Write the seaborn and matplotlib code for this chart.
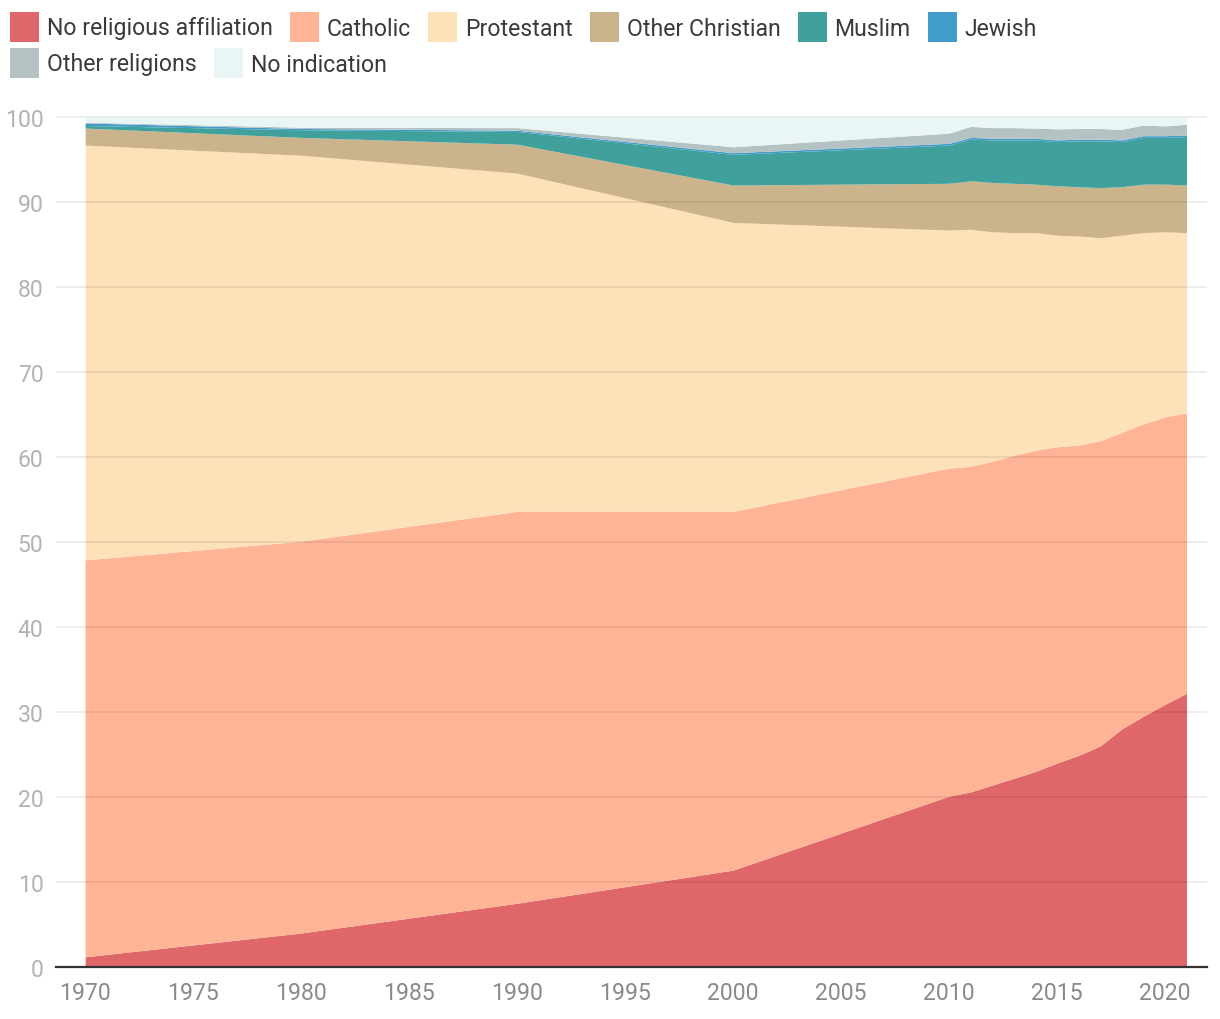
import matplotlib
matplotlib.use("Agg")
import matplotlib.pyplot as plt
import seaborn as sns
import pandas as pd
from matplotlib.patches import Rectangle

# ---------------- data (percent of population) ----------------
years = [1970, 1980, 1990, 2000, 2010, 2011, 2012, 2013, 2014, 2015,
         2016, 2017, 2018, 2019, 2020, 2021]
no_religion     = [1.2, 4.0, 7.5, 11.4, 20.1, 20.6, 21.4, 22.2, 23.0, 24.0, 24.9, 26.0, 28.0, 29.5, 30.9, 32.2]
catholic        = [46.7, 46.1, 46.1, 42.2, 38.6, 38.3, 38.1, 38.0, 37.8, 37.2, 36.5, 35.9, 34.9, 34.4, 33.8, 33.0]
protestant      = [48.8, 45.4, 39.8, 34.0, 28.0, 27.9, 27.0, 26.2, 25.6, 24.9, 24.6, 23.9, 23.2, 22.5, 21.8, 21.2]
other_christian = [2.0, 2.1, 3.4, 4.4, 5.5, 5.7, 5.8, 5.8, 5.7, 5.8, 5.8, 5.9, 5.7, 5.7, 5.6, 5.6]
muslim          = [0.3, 0.9, 1.5, 3.6, 4.5, 4.9, 5.0, 5.1, 5.2, 5.2, 5.4, 5.5, 5.3, 5.5, 5.5, 5.7]
jewish          = [0.3, 0.15, 0.15, 0.2, 0.2, 0.2, 0.2, 0.2, 0.2, 0.2, 0.2, 0.2, 0.2, 0.2, 0.2, 0.2]
other_religions = [0.1, 0.15, 0.3, 0.7, 1.2, 1.3, 1.25, 1.25, 1.2, 1.3, 1.25, 1.25, 1.25, 1.25, 1.15, 1.25]
no_indication   = [0.6, 1.2, 1.25, 3.5, 1.9, 1.1, 1.25, 1.25, 1.3, 1.4, 1.35, 1.35, 1.45, 0.95, 1.05, 0.85]

labels = ["No religious affiliation", "Catholic", "Protestant", "Other Christian",
          "Muslim", "Jewish", "Other religions", "No indication"]
y_ticks = [0, 10, 20, 30, 40, 50, 60, 70, 80, 90, 100]
x_ticks = [1970, 1975, 1980, 1985, 1990, 1995, 2000, 2005, 2010, 2015, 2020]

colors = ["#e06769", "#ffb496", "#fce1b9", "#cbb38b",
          "#40a09c", "#419cc9", "#b5c2c3", "#eaf5f6"]

df = pd.DataFrame({"year": years, labels[0]: no_religion, labels[1]: catholic,
                   labels[2]: protestant, labels[3]: other_christian,
                   labels[4]: muslim, labels[5]: jewish,
                   labels[6]: other_religions, labels[7]: no_indication})

# ---------------- style ----------------
sns.set_theme(style="white")
plt.rcParams['font.family'] = ['Roboto', 'DejaVu Sans']

W, H = 1220, 1020
fig = plt.figure(figsize=(W / 100, H / 100), dpi=100)

# axes: x in data 1968.65..2021.95 spans px 56..1207 ; y 0 at px 968, 100 at px 118
y_top = 100.25
ax_left, ax_right = 56, 1207
ax_bottom_px = 968
ax_top_px = 968 - y_top * 8.5
ax = fig.add_axes([ax_left / W, 1 - ax_bottom_px / H,
                   (ax_right - ax_left) / W, (ax_bottom_px - ax_top_px) / H])

ax.stackplot(df["year"], *[df[l] for l in labels], colors=colors,
             linewidth=0, antialiased=True)

ax.set_xlim(1968.65, 2021.95)
ax.set_ylim(0, y_top)
ax.set_yticks(y_ticks)
ax.set_xticks(x_ticks)
ax.set_yticklabels([str(v) for v in y_ticks])
ax.set_xticklabels([str(v) for v in x_ticks])

ax.set_axisbelow(False)
ax.grid(axis="y", color="black", alpha=0.08, linewidth=1.3)
ax.grid(axis="x", visible=False)
sns.despine(ax=ax, left=True, top=True, right=True, bottom=False)
ax.spines["bottom"].set_color("#333333")
ax.spines["bottom"].set_linewidth(1.6)
ax.spines["bottom"].set_zorder(3)

ax.tick_params(axis="both", length=0, labelsize=16.6)
ax.tick_params(axis="x", pad=10, labelcolor="#8a8a8a")
ax.tick_params(axis="y", pad=9, labelcolor="#b3b3b3")
ax.set_xlabel("")
ax.set_ylabel("")

# ---------------- legend (flow layout at top) ----------------
renderer = fig.canvas.get_renderer()
x = 10
row_centers = [28, 64]
row = 0
sw, sh = 29, 30
for lab, col in zip(labels, colors):
    t = fig.text(0, 0, lab, fontsize=16.6, color="#3a3a3a", va="center", ha="left")
    tw = t.get_window_extent(renderer).width
    if x + sw + 8 + tw > W - 10:
        row += 1
        x = 10
    yc = row_centers[row]
    fig.add_artist(Rectangle((x / W, 1 - (yc + sh / 2) / H), sw / W, sh / H,
                             transform=fig.transFigure, color=col, linewidth=0))
    t.set_position(((x + sw + 8) / W, 1 - (yc + 1) / H))
    x = x + sw + 8 + tw + 17

fig.savefig("out.png", dpi=100)
